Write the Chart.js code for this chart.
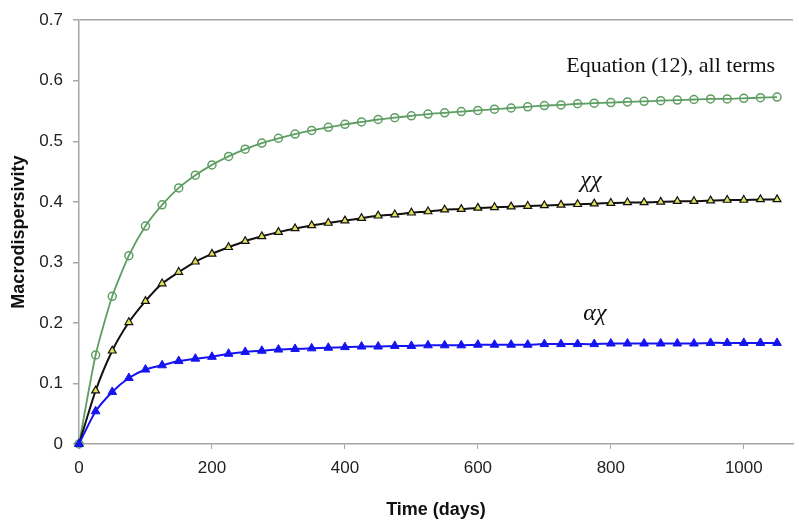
<!DOCTYPE html>
<html>
<head>
<meta charset="utf-8">
<script src="https://cdn.jsdelivr.net/npm/chart.js@4/dist/chart.umd.min.js"></script>
<style>
  html, body { margin: 0; padding: 0; background: #fff; }
  #wrap { width: 799px; height: 525px; position: relative; }
</style>
</head>
<body>
<div id="wrap"><canvas id="macroChart"></canvas></div>
<script>
// ---- data ----
const days = [0, 25, 50, 75, 100, 125, 150, 175, 200, 225, 250, 275, 300, 325, 350, 375, 400,
    425, 450, 475, 500, 525, 550, 575, 600, 625, 650, 675, 700, 725, 750, 775, 800,
    825, 850, 875, 900, 925, 950, 975, 1000, 1025, 1050];

const allTerms = [0, 0.147, 0.244, 0.311, 0.360, 0.395, 0.423, 0.444, 0.461, 0.475, 0.487, 0.497, 0.505,
    0.512, 0.518, 0.523, 0.528, 0.532, 0.536, 0.539, 0.542, 0.545, 0.547, 0.549, 0.551, 0.553,
    0.555, 0.557, 0.559, 0.560, 0.562, 0.563, 0.564, 0.565, 0.566, 0.567, 0.568, 0.569, 0.570,
    0.570, 0.571, 0.572, 0.573];

const chiChi = [0, 0.088, 0.154, 0.201, 0.236, 0.265, 0.284, 0.301, 0.314, 0.325, 0.335, 0.343, 0.350,
    0.356, 0.361, 0.365, 0.369, 0.373, 0.377, 0.379, 0.382, 0.384, 0.387, 0.388, 0.390, 0.391,
    0.392, 0.393, 0.394, 0.395, 0.396, 0.397, 0.398, 0.399, 0.399, 0.400, 0.401, 0.401, 0.402,
    0.403, 0.403, 0.404, 0.404];

const alphaChi = [0, 0.054, 0.086, 0.109, 0.123, 0.130, 0.137, 0.141, 0.144, 0.149, 0.152, 0.154, 0.156,
    0.157, 0.158, 0.159, 0.160, 0.161, 0.161, 0.162, 0.162, 0.163, 0.163, 0.163, 0.164, 0.164,
    0.164, 0.164, 0.165, 0.165, 0.165, 0.165, 0.166, 0.166, 0.166, 0.166, 0.166, 0.166, 0.167,
    0.167, 0.167, 0.167, 0.167];

const xTicks = [0, 200, 400, 600, 800, 1000];
const yTicks = [0, 0.1, 0.2, 0.3, 0.4, 0.5, 0.6, 0.7];

// labels placed in data coordinates
const curveLabels = [
    { text: 'Equation (12), all terms', x: 890, y: 0.624, font: '22px "Liberation Serif", serif' },
    { text: 'χχ', x: 770, y: 0.435, font: 'italic 24px "Liberation Serif", serif' },
    { text: 'αχ', x: 776, y: 0.216, font: 'italic 24px "Liberation Serif", serif' }
];

const toPoints = ys => days.map((d, i) => ({ x: d, y: ys[i] }));

const labelPlugin = {
    id: 'curveLabels',
    afterDatasetsDraw(chart) {
        const { ctx, scales } = chart;
        ctx.save();
        ctx.fillStyle = '#111';
        ctx.textAlign = 'center';
        ctx.textBaseline = 'middle';
        curveLabels.forEach(l => {
            ctx.font = l.font;
            ctx.fillText(l.text, scales.x.getPixelForValue(l.x), scales.y.getPixelForValue(l.y));
        });
        ctx.restore();
    }
};

const axisGray = '#a6a6a6';
const sans = '"Liberation Sans", Arial, sans-serif';

new Chart(document.getElementById('macroChart'), {
    type: 'scatter',
    data: {
        datasets: [
            {
                label: 'αχ',
                data: toPoints(alphaChi),
                showLine: true,
                borderColor: '#1414f0',
                borderWidth: 2,
                backgroundColor: '#1414f0',
                pointStyle: 'triangle',
                pointRadius: 5,
                pointBorderWidth: 1,
                pointBorderColor: '#1414f0',
                tension: 0.2,
                clip: false
            },
            {
                label: 'χχ',
                data: toPoints(chiChi),
                showLine: true,
                borderColor: '#111',
                borderWidth: 2,
                backgroundColor: '#e2e25a',
                pointStyle: 'triangle',
                pointRadius: 4.5,
                pointBorderWidth: 1.2,
                pointBorderColor: '#111',
                tension: 0.2,
                clip: false
            },
            {
                label: 'Equation (12), all terms',
                data: toPoints(allTerms),
                showLine: true,
                borderColor: '#5e9e62',
                borderWidth: 1.8,
                backgroundColor: 'rgba(255,255,255,0)',
                pointStyle: 'circle',
                pointRadius: 4,
                pointBorderWidth: 1.5,
                pointBorderColor: '#5e9e62',
                tension: 0.2,
                clip: false
            }
        ]
    },
    options: {
        responsive: true,
        maintainAspectRatio: false,
        animation: false,
        layout: { padding: { top: 19, right: 0, bottom: 0, left: 0 } },
        plugins: {
            legend: { display: false },
            tooltip: { enabled: false }
        },
        scales: {
            x: {
                type: 'linear',
                min: 0,
                max: 1074,
                afterBuildTicks: scale => {
                    scale.ticks = xTicks.map(v => ({ value: v }));
                },
                afterFit: scale => { scale.height = 81; },
                border: { color: axisGray, width: 1.5 },
                grid: { drawOnChartArea: false, tickLength: 5, color: axisGray },
                ticks: {
                    color: '#222',
                    padding: 9,
                    font: { family: sans, size: 17 },
                    callback: v => String(v)
                },
                title: {
                    display: true,
                    text: 'Time (days)',
                    color: '#111',
                    padding: { top: 14 },
                    font: { family: sans, size: 18, weight: 'bold' }
                }
            },
            y: {
                min: 0,
                max: 0.7,
                afterBuildTicks: scale => {
                    scale.ticks = yTicks.map(v => ({ value: v }));
                },
                afterFit: scale => { scale.width = 79; },
                border: { color: axisGray, width: 1.5 },
                grid: {
                    color: c => (c.tick && c.tick.value === 0.7 ? axisGray : 'rgba(0,0,0,0)'),
                    tickColor: axisGray,
                    tickLength: 6,
                    lineWidth: 1.5
                },
                ticks: {
                    color: '#222',
                    padding: 10,
                    font: { family: sans, size: 17 },
                    callback: v => String(Math.round(v * 10) / 10)
                },
                title: {
                    display: true,
                    text: 'Macrodispersivity',
                    color: '#111',
                    padding: { top: 8, bottom: 0 },
                    font: { family: sans, size: 18, weight: 'bold' }
                }
            }
        }
    },
    plugins: [labelPlugin]
});
</script>
</body>
</html>
